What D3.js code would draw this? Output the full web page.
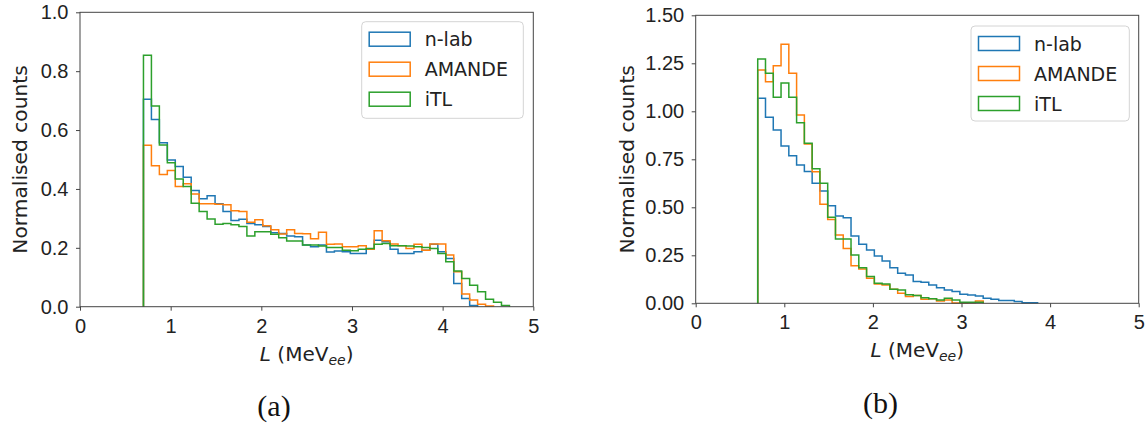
<!DOCTYPE html>
<html>
  <head>
    <meta charset="utf-8">
    <title>Normalised light output spectra</title>
    <script src="https://cdn.jsdelivr.net/npm/d3@7/dist/d3.min.js"></script>
    <style type="text/css">
        body { margin: 0; background: #fff; }
        svg { display: block; font-family: "DejaVu Sans", sans-serif; }
        .tick text { fill: #222; font-size: 20px; }
        .tick line { stroke: #444; }
    </style>
  </head>
  <body>
    <div id="viz"></div>
    <script type="text/javascript">
        // series names and colours, the same in both panels
        var seriesNames = ["n-lab", "AMANDE", "iTL"];
        var seriesColors = ["#1f77b4", "#ff7f0e", "#2ca02c"];

        // common binning : 49 bins from 0.7 to 5 MeVee
        var binLow = 0.7;
        var binHigh = 5;
        var binCount = 49;

        // panel (a) bin heights
        var nlabA = [0.705, 0.636, 0.557, 0.498, 0.476, 0.440, 0.395, 0.367, 0.377, 0.350,
                     0.323, 0.293, 0.297, 0.283, 0.278, 0.272, 0.251, 0.249, 0.240, 0.238,
                     0.210, 0.204, 0.210, 0.186, 0.189, 0.187, 0.181, 0.181, 0.195, 0.226,
                     0.221, 0.195, 0.181, 0.181, 0.187, 0.192, 0.212, 0.187, 0.164, 0.079,
                     0.028, 0.004];
        var amandeA = [0.548, 0.479, 0.449, 0.463, 0.408, 0.418, 0.383, 0.350, 0.350, 0.348,
                       0.346, 0.326, 0.323, 0.287, 0.295, 0.275, 0.261, 0.247, 0.261, 0.249,
                       0.248, 0.231, 0.253, 0.212, 0.213, 0.204, 0.204, 0.207, 0.195, 0.258,
                       0.224, 0.213, 0.207, 0.198, 0.212, 0.192, 0.213, 0.213, 0.176, 0.119,
                       0.043, 0.023, 0.008, 0.002];
        var itlA = [0.854, 0.682, 0.549, 0.489, 0.434, 0.408, 0.351, 0.323, 0.298, 0.280,
                    0.283, 0.278, 0.272, 0.240, 0.255, 0.255, 0.246, 0.234, 0.223, 0.223,
                    0.210, 0.210, 0.206, 0.201, 0.201, 0.192, 0.190, 0.195, 0.198, 0.212,
                    0.215, 0.207, 0.207, 0.206, 0.204, 0.201, 0.198, 0.181, 0.153, 0.121,
                    0.096, 0.073, 0.051, 0.025, 0.015, 0.004];

        // panel (b) bin heights
        var nlabB = [1.068, 0.969, 0.903, 0.819, 0.769, 0.720, 0.686, 0.625, 0.585, 0.508,
                     0.455, 0.446, 0.351, 0.307, 0.278, 0.247, 0.220, 0.185, 0.156, 0.147,
                     0.113, 0.110, 0.095, 0.081, 0.069, 0.061, 0.047, 0.043, 0.038, 0.026,
                     0.021, 0.014, 0.014, 0.009, 0.003, 0.003];
        var amandeB = [1.215, 1.154, 1.237, 1.349, 1.198, 0.981, 0.830, 0.685, 0.516, 0.437,
                       0.356, 0.286, 0.196, 0.179, 0.130, 0.101, 0.095, 0.073, 0.052, 0.035,
                       0.040, 0.021, 0.024, 0.012, 0.017, 0.002, 0.002, 0.003, 0.012];
        var itlB = [1.272, 1.198, 1.073, 1.147, 1.073, 0.941, 0.833, 0.701, 0.625, 0.448,
                    0.335, 0.335, 0.252, 0.185, 0.139, 0.104, 0.101, 0.073, 0.069, 0.045,
                    0.040, 0.029, 0.024, 0.017, 0.026, 0.017, 0.005, 0.005, 0.005];

        // tick values
        var xTicks = [0, 1, 2, 3, 4, 5];
        var yTicksA = [0, 0.2, 0.4, 0.6, 0.8, 1.0];
        var yTicksB = [0, 0.25, 0.5, 0.75, 1.0, 1.25, 1.5];

        var binWidth = (binHigh - binLow) / binCount;

        var svg = d3.select("#viz").append("svg")
            .attr("width", 1148)
            .attr("height", 428);

        // layout of the two panels (pixels)
        var panels = [
            { left: 80, right: 533.3, bottom: 306.7, top: 12.3, ymax: 1.0, yTicks: yTicksA, fmt: ".1f",
              series: [nlabA, amandeA, itlA],
              legend: { x: 361.7, y: 21.7, w: 161.6, h: 96.6 },
              ylabelX: 27, xlabelY: 361, caption: "(a)", capX: 274, capY: 416 },
            { left: 695.7, right: 1138.7, bottom: 303.3, top: 15.3, ymax: 1.5, yTicks: yTicksB, fmt: ".2f",
              series: [nlabB, amandeB, itlB],
              legend: { x: 971, y: 26, w: 158.3, h: 95 },
              ylabelX: 633.5, xlabelY: 356.7, caption: "(b)", capX: 880.5, capY: 413 }
        ];

        panels.forEach(function(p) {
            var x = d3.scaleLinear().domain([0, 5]).range([p.left, p.right]);
            var y = d3.scaleLinear().domain([0, p.ymax]).range([p.bottom, p.top]);
            var g = svg.append("g");

            // histograms drawn as steps, n-lab first so iTL ends up on top
            var line = d3.line()
                .x(function(d) { return x(d[0]); })
                .y(function(d) { return y(d[1]); });
            p.series.forEach(function(vals, i) {
                var pts = [[binLow, 0]];
                vals.forEach(function(v, k) {
                    pts.push([binLow + k * binWidth, v]);
                    pts.push([binLow + (k + 1) * binWidth, v]);
                });
                pts.push([binLow + vals.length * binWidth, 0]);
                g.append("path")
                    .attr("d", line(pts))
                    .attr("fill", "none")
                    .attr("stroke", seriesColors[i])
                    .attr("stroke-width", 1.5)
                    .attr("stroke-linejoin", "miter");
            });

            // axes
            var xAxis = d3.axisBottom(x).tickValues(xTicks).tickFormat(d3.format("d"))
                .tickSize(4).tickSizeOuter(0).tickPadding(8);
            var yAxis = d3.axisLeft(y).tickValues(p.yTicks).tickFormat(d3.format(p.fmt))
                .tickSize(4).tickSizeOuter(0).tickPadding(7.5);
            var gx = g.append("g").attr("transform", "translate(0," + p.bottom + ")").call(xAxis);
            var gy = g.append("g").attr("transform", "translate(" + p.left + ",0)").call(yAxis);
            gx.select(".domain").remove();
            gy.select(".domain").remove();
            gx.selectAll("text").attr("font-family", null).attr("font-size", null);
            gy.selectAll("text").attr("font-family", null).attr("font-size", null);

            // frame
            g.append("rect")
                .attr("x", p.left).attr("y", p.top)
                .attr("width", p.right - p.left).attr("height", p.bottom - p.top)
                .attr("fill", "none").attr("stroke", "#444").attr("stroke-width", 1);

            // y label
            g.append("text")
                .attr("transform", "translate(" + p.ylabelX + "," + ((p.top + p.bottom) / 2) + ") rotate(-90)")
                .attr("text-anchor", "middle")
                .attr("font-size", "20.2px")
                .attr("fill", "#222")
                .text("Normalised counts");

            // x label : L (MeV_ee)
            var xl = g.append("text")
                .attr("x", (p.left + p.right) / 2)
                .attr("y", p.xlabelY)
                .attr("text-anchor", "middle")
                .attr("font-size", "20px")
                .attr("fill", "#222");
            xl.append("tspan").attr("font-style", "italic").text("L");
            xl.append("tspan").text(" (MeV");
            xl.append("tspan").attr("font-style", "italic").attr("font-size", "14px").attr("dy", 4).text("ee");
            xl.append("tspan").attr("dy", -4).text(")");

            // legend
            var lg = g.append("g").attr("transform", "translate(" + p.legend.x + "," + p.legend.y + ")");
            lg.append("rect")
                .attr("width", p.legend.w).attr("height", p.legend.h)
                .attr("rx", 4).attr("ry", 4)
                .attr("fill", "#fff").attr("fill-opacity", 0.8)
                .attr("stroke", "#d4d4d4").attr("stroke-width", 1);
            seriesNames.forEach(function(name, i) {
                lg.append("rect")
                    .attr("x", 7.5).attr("y", 10.5 + i * 30)
                    .attr("width", 41).attr("height", 14)
                    .attr("fill", "none")
                    .attr("stroke", seriesColors[i])
                    .attr("stroke-width", 1.5);
                lg.append("text")
                    .attr("x", 63).attr("y", 24.5 + i * 30)
                    .attr("font-size", "19px")
                    .attr("fill", "#222")
                    .text(name);
            });

            // sub-figure caption
            g.append("text")
                .attr("x", p.capX).attr("y", p.capY)
                .attr("text-anchor", "middle")
                .attr("font-family", "'Liberation Serif', serif")
                .attr("font-size", "30px")
                .attr("fill", "#111")
                .text(p.caption);
        });
    </script>
  </body>
</html>
